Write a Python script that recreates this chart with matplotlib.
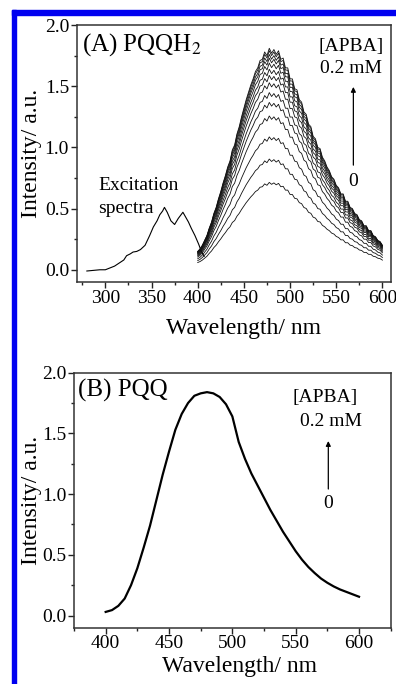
"""
Fluorescence of PQQH2 (A) and PQQ (B) with increasing [APBA], 0 -> 0.2 mM.
Panel A: emission spectra (400-600 nm) plus the excitation spectrum.
Panel B: PQQ emission, unchanged by APBA.
"""
import numpy as np
import matplotlib
matplotlib.use("Agg")
import matplotlib.pyplot as plt
from matplotlib.patches import Rectangle
from matplotlib.ticker import MultipleLocator, FormatStrFormatter

plt.rcParams["font.family"] = ["Liberation Serif", "DejaVu Serif"]
plt.rcParams["mathtext.fontset"] = "stix"

# (A) excitation spectrum of PQQH2
exc_nm = [280, 287, 294, 300, 305, 310, 316, 320, 323, 327, 330, 334, 338, 343,
          348, 352, 356, 359, 362, 364, 367, 371, 375, 379, 382, 384, 387, 390,
          393, 397, 401, 404, 407]
exc_int = [-0.01, -0.005, 0.0, 0.0, 0.015, 0.03, 0.06, 0.08, 0.115, 0.13, 0.145,
           0.15, 0.165, 0.2, 0.28, 0.35, 0.40, 0.45, 0.48, 0.51, 0.47, 0.40, 0.37,
           0.42, 0.45, 0.47, 0.43, 0.39, 0.34, 0.28, 0.21, 0.15, 0.11]

# (A) emission of PQQH2 at the highest [APBA] (2.5 nm steps, 400-600 nm)
em_top = [0.15, 0.17, 0.20, 0.24, 0.28, 0.34, 0.39, 0.46, 0.51, 0.58, 0.64,
          0.71, 0.77, 0.84, 0.89, 0.98, 1.02, 1.11, 1.17, 1.25, 1.32, 1.39,
          1.45, 1.51, 1.56, 1.62, 1.65, 1.71, 1.72, 1.78, 1.75, 1.81, 1.77,
          1.80, 1.76, 1.79, 1.72, 1.73, 1.65, 1.65, 1.56, 1.56, 1.48, 1.47,
          1.39, 1.37, 1.29, 1.27, 1.19, 1.17, 1.09, 1.07, 1.00, 0.99, 0.92,
          0.89, 0.84, 0.81, 0.76, 0.74, 0.69, 0.67, 0.62, 0.62, 0.56, 0.56,
          0.51, 0.50, 0.46, 0.45, 0.41, 0.40, 0.36, 0.36, 0.32, 0.32, 0.28,
          0.27, 0.24, 0.23, 0.20]
# peak intensity of each emission spectrum, 0 -> 0.2 mM APBA
em_peaks = [0.71, 0.90, 1.08, 1.25, 1.36, 1.44, 1.52, 1.58, 1.63, 1.68,
            1.72, 1.75, 1.78, 1.80]

# (B) emission of PQQ (5 nm steps, 400-600 nm)
pqq_int = [0.03, 0.045, 0.08, 0.14, 0.25, 0.39, 0.56, 0.74, 0.95, 1.16, 1.35,
           1.53, 1.66, 1.75, 1.81, 1.83, 1.84, 1.83, 1.80, 1.74, 1.64, 1.43,
           1.29, 1.17, 1.07, 0.97, 0.87, 0.78, 0.69, 0.61, 0.53, 0.46, 0.40,
           0.35, 0.305, 0.27, 0.24, 0.215, 0.195, 0.175, 0.155]

em_nm = np.arange(400, 600.1, 2.5)
pqq_nm = np.arange(400, 600.1, 5)

fig = plt.figure(figsize=(3.96, 6.84), dpi=100)

# blue frame on the top and left edge
fig.patches.append(Rectangle((0.0303, 0.978), 0.97, 0.0074, transform=fig.transFigure,
                             color="#0000f0", zorder=0))
fig.patches.append(Rectangle((0.0303, 0.0), 0.0101, 0.9854, transform=fig.transFigure,
                             color="#0000f0", zorder=0))

axA = fig.add_axes([0.1937, 0.5877, 0.793, 0.3757])
axB = fig.add_axes([0.1869, 0.0823, 0.7997, 0.3728])


def style(ax):
    ax.set_ylim(-0.1, 2.0)
    ax.yaxis.set_major_locator(MultipleLocator(0.5))
    ax.yaxis.set_minor_locator(MultipleLocator(0.25))
    ax.xaxis.set_major_locator(MultipleLocator(50))
    ax.xaxis.set_minor_locator(MultipleLocator(25))
    ax.yaxis.set_major_formatter(FormatStrFormatter("%.1f"))
    ax.tick_params(which="both", direction="out", top=False, right=False,
                   labelsize=14, color="#222222", width=1.0, pad=1.5)
    ax.tick_params(which="major", length=4)
    ax.tick_params(which="minor", length=2.5)
    for s in ax.spines.values():
        s.set_linewidth(1.1)
        s.set_color("#333333")
    ax.set_xlabel("Wavelength/ nm", fontsize=17)
    ax.set_ylabel("Intensity/ a.u.", fontsize=17)


# panel A
axA.plot(exc_nm, exc_int, color="black", lw=0.8)
for pk in em_peaks:
    axA.plot(em_nm, np.array(em_top) * pk / em_peaks[-1], color="#111111", lw=0.6)
axA.set_xlim(269, 609)
style(axA)
axA.xaxis.set_label_coords(0.532, -0.14)
axA.yaxis.set_label_coords(-0.112, 0.5)
axA.text(0.017, 0.975, "(A) PQQH$_2$", transform=axA.transAxes, fontsize=18,
         ha="left", va="top")
axA.text(0.069, 0.358, "Excitation", transform=axA.transAxes, fontsize=14)
axA.text(0.069, 0.267, "spectra", transform=axA.transAxes, fontsize=14)
axA.text(0.873, 0.916, "[APBA]", transform=axA.transAxes, fontsize=14,
         ha="center", va="center")
axA.text(0.873, 0.831, "0.2 mM", transform=axA.transAxes, fontsize=14,
         ha="center", va="center")
axA.annotate("", xy=(0.881, 0.77), xytext=(0.881, 0.444), xycoords="axes fraction",
             arrowprops=dict(arrowstyle="-|>", lw=0.9, color="black", mutation_scale=7))
axA.text(0.881, 0.393, "0", transform=axA.transAxes, fontsize=14,
         ha="center", va="center")

# panel B
axB.plot(pqq_nm, pqq_int, color="black", lw=1.6)
axB.set_xlim(375, 625)
style(axB)
axB.xaxis.set_label_coords(0.521, -0.11)
axB.yaxis.set_label_coords(-0.102, 0.5)
axB.text(0.014, 0.975, "(B) PQQ", transform=axB.transAxes, fontsize=18,
         ha="left", va="top")
axB.text(0.7925, 0.903, "[APBA]", transform=axB.transAxes, fontsize=14,
         ha="center", va="center")
axB.text(0.811, 0.809, "0.2 mM", transform=axB.transAxes, fontsize=14,
         ha="center", va="center")
axB.annotate("", xy=(0.803, 0.743), xytext=(0.803, 0.533), xycoords="axes fraction",
             arrowprops=dict(arrowstyle="-|>", lw=0.9, color="black", mutation_scale=7))
axB.text(0.803, 0.488, "0", transform=axB.transAxes, fontsize=14,
         ha="center", va="center")

fig.savefig("out.png", dpi=100)
